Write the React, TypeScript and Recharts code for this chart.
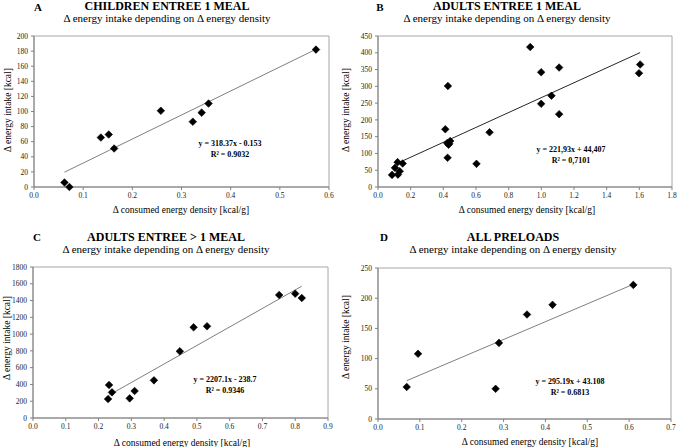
import React from 'react';
import { ScatterChart, Scatter, XAxis, YAxis, ReferenceArea, ReferenceLine } from 'recharts';

// Panel A – children entree 1 meal
const aX = [0.062, 0.072, 0.136, 0.152, 0.163, 0.258, 0.323, 0.341, 0.355, 0.5735];
const aY = [6, 0, 65.5, 69.5, 51, 101, 86.5, 98.5, 110.5, 182];
const aTrend = [{ x: 0.062, y: 19.6 }, { x: 0.5735, y: 182.4 }];
const aXTicks = [0, 0.1, 0.2, 0.3, 0.4, 0.5, 0.6];
const aYTicks = [0, 20, 40, 60, 80, 100, 120, 140, 160, 180, 200];

// Panel B – adults entree 1 meal
const bX = [0.086, 0.104, 0.12, 0.122, 0.133, 0.151, 0.412, 0.428, 0.424, 0.436, 0.432, 0.442, 0.426, 0.603, 0.683, 0.932, 0.999, 1.109, 1.062, 0.999, 1.109, 1.598, 1.605];
const bY = [36, 57, 74, 37, 47, 70, 172, 301, 131, 129, 126, 137, 87, 69, 163, 417, 342, 356, 272, 248, 217, 339, 365];
const bTrend = [{ x: 0.12, y: 71 }, { x: 1.605, y: 400.6 }];
const bXTicks = [0, 0.2, 0.4, 0.6, 0.8, 1.0, 1.2, 1.4, 1.6, 1.8];
const bYTicks = [0, 50, 100, 150, 200, 250, 300, 350, 400, 450];

// Panel C – adults entree > 1 meal
const cX = [0.229, 0.232, 0.241, 0.295, 0.31, 0.369, 0.448, 0.49, 0.531, 0.751, 0.8, 0.82];
const cY = [226, 393, 306, 234, 322, 449, 795, 1081, 1093, 1466, 1482, 1430];
const cTrend = [{ x: 0.232, y: 273 }, { x: 0.82, y: 1571 }];
const cXTicks = [0, 0.1, 0.2, 0.3, 0.4, 0.5, 0.6, 0.7, 0.8, 0.9];
const cYTicks = [0, 200, 400, 600, 800, 1000, 1200, 1400, 1600, 1800];

// Panel D – all preloads
const dX = [0.0686, 0.0957, 0.281, 0.289, 0.356, 0.417, 0.61];
const dY = [53, 108, 50, 126, 173, 189, 222];
const dTrend = [{ x: 0.0686, y: 63.4 }, { x: 0.61, y: 223 }];
const dXTicks = [0, 0.1, 0.2, 0.3, 0.4, 0.5, 0.6, 0.7];
const dYTicks = [0, 50, 100, 150, 200, 250];

const zip = (xs: number[], ys: number[]) => xs.map((x, i) => ({ x, y: ys[i] }));

const FONT = '"Liberation Serif", "Times New Roman", serif';

const Diamond = (p: any) => {
  const { cx, cy } = p;
  if (cx == null || cy == null) return <g />;
  const r = 3.8;
  return (
    <polygon
      points={`${cx},${cy - r} ${cx + r},${cy} ${cx},${cy + r} ${cx - r},${cy}`}
      fill="#000"
      stroke="#000"
      strokeWidth={0.6}
      strokeLinejoin="round"
    />
  );
};

const tickStyle = { fontFamily: FONT, fontSize: 7.5, fill: '#222' };

type PanelProps = {
  left: number;
  top: number;
  height: number;
  margin: { top: number; right: number; bottom: number; left: number };
  yWidth: number;
  xs: number[];
  ys: number[];
  trend: { x: number; y: number }[];
  xTicks: number[];
  yTicks: number[];
  trendColor: string;
};

function Panel(p: PanelProps) {
  const data = zip(p.xs, p.ys);
  const xMin = p.xTicks[0];
  const xMax = p.xTicks[p.xTicks.length - 1];
  const yMin = p.yTicks[0];
  const yMax = p.yTicks[p.yTicks.length - 1];
  return (
    <div style={{ position: 'absolute', left: p.left, top: p.top }}>
      <ScatterChart width={338} height={p.height} margin={p.margin} style={{ fontFamily: FONT }}>
        <ReferenceArea x1={xMin} x2={xMax} y1={yMin} y2={yMax} fill="none" stroke="#a6a6a6" strokeWidth={1} />
        <XAxis
          type="number"
          dataKey="x"
          domain={[xMin, xMax]}
          ticks={p.xTicks}
          tickFormatter={(v: number) => v.toFixed(1)}
          tick={tickStyle}
          tickSize={3}
          tickMargin={3}
          stroke="#808080"
          height={20}
          allowDecimals
          interval={0}
        />
        <YAxis
          type="number"
          dataKey="y"
          domain={[yMin, yMax]}
          ticks={p.yTicks}
          tick={tickStyle}
          tickSize={3}
          tickMargin={3}
          stroke="#808080"
          width={p.yWidth}
          interval={0}
        />
        <ReferenceLine segment={p.trend} stroke={p.trendColor} strokeWidth={1} ifOverflow="visible" />
        <Scatter data={data} shape={Diamond} isAnimationActive={false} />
      </ScatterChart>
    </div>
  );
}

function Txt({ x, y, size, bold, rotate, children }: { x: number; y: number; size: number; bold?: boolean; rotate?: boolean; children: React.ReactNode }) {
  return (
    <div
      style={{
        position: 'absolute',
        left: x,
        top: y,
        transform: `translate(-50%, -50%)${rotate ? ' rotate(-90deg)' : ''}`,
        fontFamily: FONT,
        fontSize: size,
        fontWeight: bold ? 'bold' : 'normal',
        whiteSpace: 'nowrap',
        lineHeight: 1,
        color: '#000',
      }}
    >
      {children}
    </div>
  );
}

const SUB = 'Δ energy intake depending on Δ energy density';
const XLAB = 'Δ consumed energy density [kcal/g]';
const YLAB = 'Δ energy intake [kcal]';

const TS = 12; // title size
const SS = 11; // subtitle size
const AS = 9.5; // axis label size
const ES = 8; // equation size

export default function App() {
  return (
    <div style={{ position: 'absolute', left: 0, top: 0, width: 677, height: 447, background: '#fff', overflow: 'hidden' }}>
      <Panel left={0} top={0} height={223} margin={{ top: 36, right: 9, bottom: 16, left: 0 }} yWidth={34}
        xs={aX} ys={aY} trend={aTrend} xTicks={aXTicks} yTicks={aYTicks} trendColor="#7f7f7f" />
      <Panel left={340} top={0} height={223} margin={{ top: 36, right: 6, bottom: 16, left: 0 }} yWidth={38}
        xs={bX} ys={bY} trend={bTrend} xTicks={bXTicks} yTicks={bYTicks} trendColor="#262626" />
      <Panel left={0} top={225} height={222} margin={{ top: 42, right: 10, bottom: 9, left: 0 }} yWidth={33}
        xs={cX} ys={cY} trend={cTrend} xTicks={cXTicks} yTicks={cYTicks} trendColor="#7f7f7f" />
      <Panel left={340} top={225} height={222} margin={{ top: 43, right: 7, bottom: 8, left: 0 }} yWidth={38}
        xs={dX} ys={dY} trend={dTrend} xTicks={dXTicks} yTicks={dYTicks} trendColor="#7f7f7f" />

      {/* Panel A texts */}
      <Txt x={38} y={7} size={11} bold>A</Txt>
      <Txt x={167} y={6} size={TS} bold>CHILDREN ENTREE 1 MEAL</Txt>
      <Txt x={167} y={18} size={SS}>{SUB}</Txt>
      <Txt x={181} y={211} size={AS}>{XLAB}</Txt>
      <Txt x={9} y={110} size={AS} rotate>{YLAB}</Txt>
      <Txt x={230} y={144} size={ES} bold>y = 318.37x - 0.153</Txt>
      <Txt x={230} y={155} size={ES} bold>R² = 0.9032</Txt>

      {/* Panel B texts */}
      <Txt x={380} y={7} size={11} bold>B</Txt>
      <Txt x={507} y={6} size={TS} bold>ADULTS ENTREE 1 MEAL</Txt>
      <Txt x={507} y={18} size={SS}>{SUB}</Txt>
      <Txt x={527} y={211} size={AS}>{XLAB}</Txt>
      <Txt x={347} y={110} size={AS} rotate>{YLAB}</Txt>
      <Txt x={571} y={150} size={ES} bold>y = 221,93x + 44,407</Txt>
      <Txt x={571} y={161} size={ES} bold>R² = 0,7101</Txt>

      {/* Panel C texts */}
      <Txt x={37} y={237} size={11} bold>C</Txt>
      <Txt x={166} y={237} size={TS} bold>ADULTS ENTREE &gt; 1 MEAL</Txt>
      <Txt x={166} y={249} size={SS}>{SUB}</Txt>
      <Txt x={182} y={444} size={AS}>{XLAB}</Txt>
      <Txt x={8} y={338} size={AS} rotate>{YLAB}</Txt>
      <Txt x={225} y={380} size={ES} bold>y = 2207.1x - 238.7</Txt>
      <Txt x={225} y={391} size={ES} bold>R² = 0.9346</Txt>

      {/* Panel D texts */}
      <Txt x={384} y={237} size={11} bold>D</Txt>
      <Txt x={513} y={237} size={TS} bold>ALL PRELOADS</Txt>
      <Txt x={513} y={249} size={SS}>{SUB}</Txt>
      <Txt x={530} y={443} size={AS}>{XLAB}</Txt>
      <Txt x={347} y={337} size={AS} rotate>{YLAB}</Txt>
      <Txt x={570} y={382} size={ES} bold>y = 295.19x + 43.108</Txt>
      <Txt x={570} y={393} size={ES} bold>R² = 0.6813</Txt>
    </div>
  );
}
